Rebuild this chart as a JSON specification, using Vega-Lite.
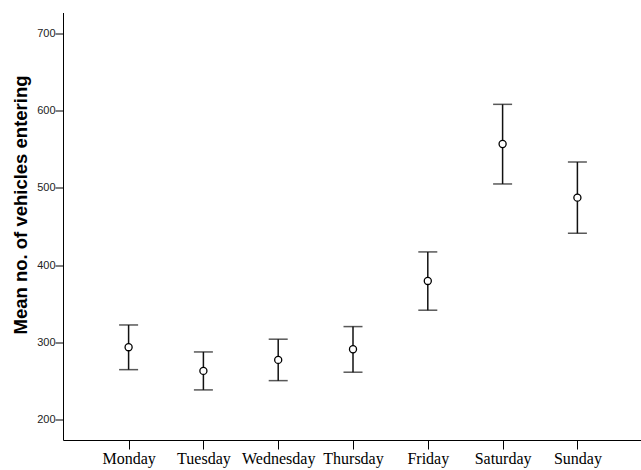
{
  "$schema": "https://vega.github.io/schema/vega-lite/v6.json",
  "autosize": "none",
  "width": 580,
  "height": 427.5,
  "padding": {"left": 63, "top": 12.5, "right": 0, "bottom": 30},
  "background": "white",
  "data": {
    "values": [
      {"day": "Monday", "mean": 294, "lower": 265, "upper": 322.8},
      {"day": "Tuesday", "mean": 263.4, "lower": 238.8, "upper": 287.9},
      {"day": "Wednesday", "mean": 277.6, "lower": 250.8, "upper": 304.4},
      {"day": "Thursday", "mean": 291.4, "lower": 261.7, "upper": 320.7},
      {"day": "Friday", "mean": 379.7, "lower": 341.9, "upper": 417.3},
      {"day": "Saturday", "mean": 556.9, "lower": 505.2, "upper": 608.2},
      {"day": "Sunday", "mean": 487.5, "lower": 441.4, "upper": 533.6}
    ]
  },
  "encoding": {
    "x": {
      "field": "day",
      "type": "nominal",
      "sort": ["Monday", "Tuesday", "Wednesday", "Thursday", "Friday", "Saturday", "Sunday"],
      "scale": {"type": "point", "padding": 0.877},
      "axis": {
        "title": null,
        "labelAngle": 0,
        "labelFont": "Liberation Serif",
        "labelFontSize": 16,
        "labelColor": "#000",
        "labelPadding": 1,
        "tickSize": 9,
        "tickColor": "#000",
        "domainColor": "#000",
        "domainWidth": 1,
        "grid": false
      }
    }
  },
  "layer": [
    {
      "mark": {"type": "rule", "color": "#111", "strokeWidth": 1.5},
      "encoding": {
        "y": {
          "field": "lower",
          "type": "quantitative",
          "scale": {"domain": [174, 727], "nice": false, "zero": false},
          "axis": {
            "title": "Mean no. of vehicles entering",
            "titleFont": "Liberation Sans",
            "titleFontWeight": "bold",
            "titleFontSize": 18.5,
            "titleColor": "#000",
            "titleAngle": -90,
            "titleBaseline": "middle",
            "titleAlign": "center",
            "titleX": -43,
            "titleY": 192,
            "values": [200, 300, 400, 500, 600, 700],
            "labelFont": "Liberation Sans",
            "labelFontSize": 11,
            "labelColor": "#222",
            "labelPadding": 0,
            "tickSize": 8,
            "tickColor": "#000",
            "domainColor": "#000",
            "domainWidth": 1,
            "grid": false
          }
        },
        "y2": {"field": "upper"}
      }
    },
    {
      "mark": {"type": "tick", "color": "#111", "size": 19, "thickness": 1.5, "orient": "horizontal"},
      "encoding": {"y": {"field": "upper", "type": "quantitative"}}
    },
    {
      "mark": {"type": "tick", "color": "#111", "size": 19, "thickness": 1.5, "orient": "horizontal"},
      "encoding": {"y": {"field": "lower", "type": "quantitative"}}
    },
    {
      "mark": {"type": "point", "shape": "circle", "filled": true, "fill": "white", "stroke": "#000", "strokeWidth": 1.3, "size": 50, "opacity": 1},
      "encoding": {"y": {"field": "mean", "type": "quantitative"}}
    }
  ],
  "config": {"view": {"stroke": null}}
}
